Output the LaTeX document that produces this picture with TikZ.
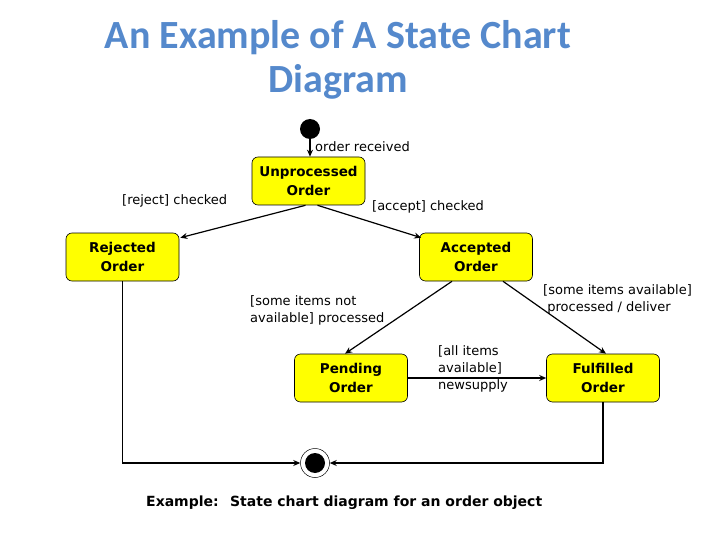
\documentclass[tikz,border=0pt]{standalone}
\usepackage{fontspec}
\setmainfont{DejaVu Sans}
\newfontfamily\titlefont{Carlito}
\usetikzlibrary{calc,arrows.meta}
\definecolor{titleblue}{RGB}{85,137,204}
\definecolor{stateyellow}{RGB}{255,255,0}
\tikzset{
  state/.style={draw=black, fill=stateyellow, rounded corners=6pt, minimum width=113pt, minimum height=48pt, inner sep=0pt, align=center, font=\fontsize{13.5}{19}\selectfont\bfseries, line width=0.6pt},
  lbl/.style={font=\fontsize{13}{17}\selectfont, align=left, inner sep=0pt},
  arr/.style={-{Stealth[length=7pt,width=6pt]}, line width=1.2pt},
}
\begin{document}
\begin{tikzpicture}[x=1pt,y=-1pt]
\useasboundingbox (0,0) rectangle (720,540);
\node[font=\titlefont\fontsize{40}{44}\selectfont\bfseries, text=titleblue, align=center] (title) at (338,60) {An Example of A State Chart\\Diagram};
\node[circle, fill=black, minimum size=20pt, inner sep=0pt] (init) at (310,129) {};
\node[state] (unp) at (308.5,181) {Unprocessed\\Order};
\node[state] (rej) at (122.5,257) {Rejected\\Order};
\node[state] (acc) at (476,257) {Accepted\\Order};
\node[state] (pen) at (351,378) {Pending\\Order};
\node[state] (ful) at (603,378) {Fulfilled\\Order};
\node[circle, draw=black, line width=0.5pt, minimum size=29pt, inner sep=0pt] (fin) at (315,463) {};
\node[circle, fill=black, minimum size=20pt, inner sep=0pt] at (fin) {};

\draw[arr] (init.south) -- (init.south |- unp.north);
\draw[arr] ($(unp.south)+(-3,0)$) -- ($(rej.north east)+(1,5)$);
\draw[arr] ($(unp.south)+(9,0)$) -- ($(acc.north west)+(2,5)$);
\draw[arr] ($(acc.south)+(-24,0)$) -- ($(pen.north)+(-6,0)$);
\draw[arr] ($(acc.south)+(27,0)$) -- ($(ful.north)+(3,0)$);
\draw[arr] (pen.east) -- (ful.west);
\draw[arr] (rej.south) -- (rej.south |- fin) -- (fin.west);
\draw[arr] (ful.south) -- (ful.south |- fin) -- (fin.east);

\node[lbl, anchor=west] (l1) at (315,147) {order received};
\node[lbl, anchor=west] (l2) at (122,201) {[reject] checked};
\node[lbl, anchor=west] (l3) at (372,207) {[accept] checked};
\node[lbl, anchor=west] (l4) at (250,310) {[some items not\\available] processed};
\node[lbl, anchor=west] (l5) at (543,299) {[some items available]\\\ processed / deliver};
\node[lbl, anchor=west] (l6) at (438,369) {[all items\\available]\\newsupply};
\node[font=\fontsize{14}{17}\selectfont\bfseries, anchor=west, inner sep=0pt] (cap) at (146,503) {Example:~ State chart diagram for an order object};
\end{tikzpicture}
\end{document}
